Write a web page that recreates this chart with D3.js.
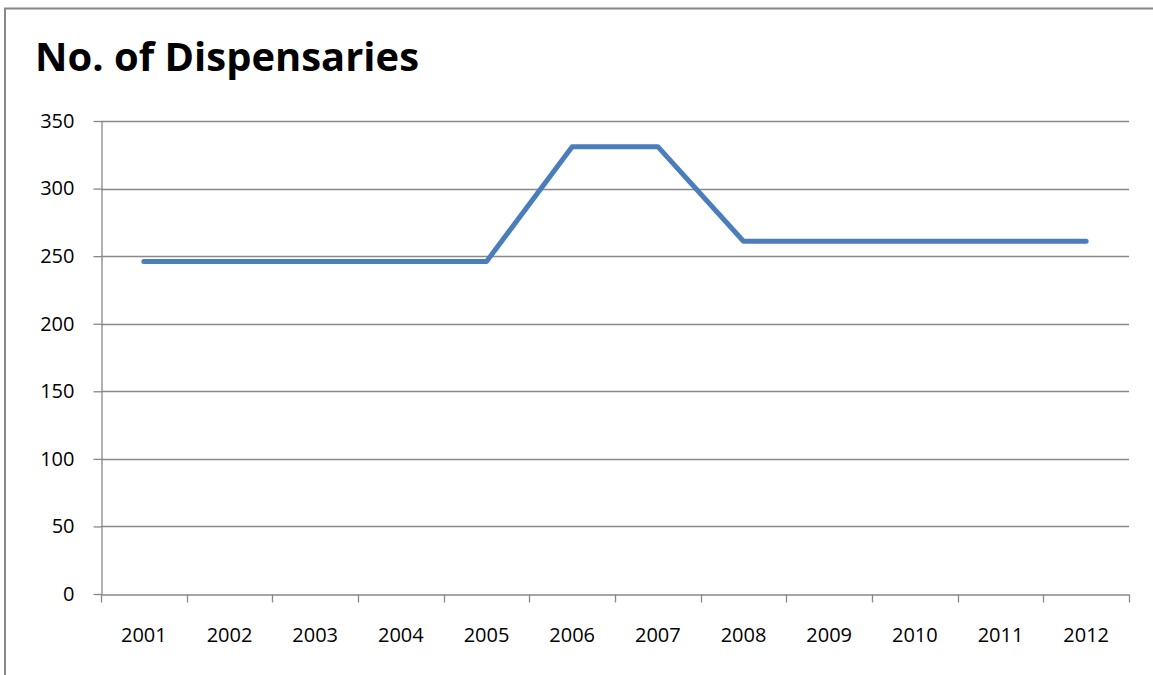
<!DOCTYPE html>
<html>
<head>
<meta charset="utf-8">
<script src="https://cdn.jsdelivr.net/npm/d3@7"></script>
<style>
  html, body { margin: 0; padding: 0; background: #fff; }
  svg { display: block; }
</style>
</head>
<body>
<svg id="chart" width="1153" height="675"></svg>
<script>
const years = ["2001","2002","2003","2004","2005","2006","2007","2008","2009","2010","2011","2012"];
const dispensaries = [246,246,246,246,246,331,331,261,261,261,261,261];
const yTicks = [0,50,100,150,200,250,300,350];
const titleText = "No. of Dispensaries";

const svg = d3.select("#chart");
const W = 1153, H = 675;
const margin = {left: 101, right: 24, top: 121, bottom: 81};
const x0 = margin.left, x1 = W - margin.right;
const y0 = H - margin.bottom, y1 = margin.top;

// outer border (only top and left visible)
svg.append("rect")
  .attr("x", 5).attr("y", 8.5)
  .attr("width", W + 20).attr("height", H + 20)
  .attr("fill", "none").attr("stroke", "#878787").attr("stroke-width", 2);

// title
const title = svg.append("text")
  .attr("x", 35).attr("y", 71)
  .attr("font-family", "'Open Sans', 'Noto Sans', sans-serif")
  .attr("font-weight", "bold")
  .attr("font-size", 40)
  .attr("fill", "#000")
  .text(titleText);
title.attr("textLength", 384).attr("lengthAdjust", "spacingAndGlyphs");

const x = d3.scaleBand().domain(years).range([x0, x1]).padding(0);
const y = d3.scaleLinear().domain([0, 350]).range([y0, y1]);

const grid = "#888888";
const fontFam = "'Open Sans', 'Noto Sans', sans-serif";

// gridlines
svg.append("g")
  .selectAll("line")
  .data(yTicks.filter(d => d !== 0))
  .join("line")
  .attr("x1", x0).attr("x2", x1)
  .attr("y1", d => Math.round(y(d)) + 0.5).attr("y2", d => Math.round(y(d)) + 0.5)
  .attr("stroke", grid).attr("stroke-width", 1.3);

// y axis
const yAxis = svg.append("g")
  .attr("transform", `translate(${x0 + 0.5},0)`)
  .call(d3.axisLeft(y).tickValues(yTicks).tickSize(8).tickPadding(19).tickSizeOuter(0));
yAxis.select(".domain").attr("stroke", grid).attr("stroke-width", 1.3);
yAxis.selectAll(".tick line").attr("stroke", grid).attr("stroke-width", 1.3);
yAxis.selectAll(".tick text")
  .attr("font-family", fontFam)
  .attr("font-size", 20).attr("fill", "#000");

// x axis
const xAxis = svg.append("g")
  .attr("transform", `translate(0,${Math.round(y0) + 0.5})`)
  .call(d3.axisBottom(x).tickSize(0).tickPadding(33));
xAxis.select(".domain").attr("stroke", grid).attr("stroke-width", 1.3);
xAxis.selectAll(".tick text")
  .attr("font-family", fontFam)
  .attr("font-size", 20).attr("fill", "#000");

// x ticks at category boundaries
const bounds = years.map(d => x(d)).concat([x1]);
xAxis.append("g").selectAll("line")
  .data(bounds)
  .join("line")
  .attr("x1", d => Math.round(d) + 0.5).attr("x2", d => Math.round(d) + 0.5)
  .attr("y1", 0).attr("y2", 8)
  .attr("stroke", grid).attr("stroke-width", 1.3);

// line
const line = d3.line()
  .x((d, i) => x(years[i]) + x.bandwidth() / 2)
  .y(d => y(d));
svg.append("path")
  .datum(dispensaries)
  .attr("d", line)
  .attr("fill", "none")
  .attr("stroke", "#4A7EBB")
  .attr("stroke-width", 5)
  .attr("stroke-linejoin", "round")
  .attr("stroke-linecap", "round");
</script>
</body>
</html>
